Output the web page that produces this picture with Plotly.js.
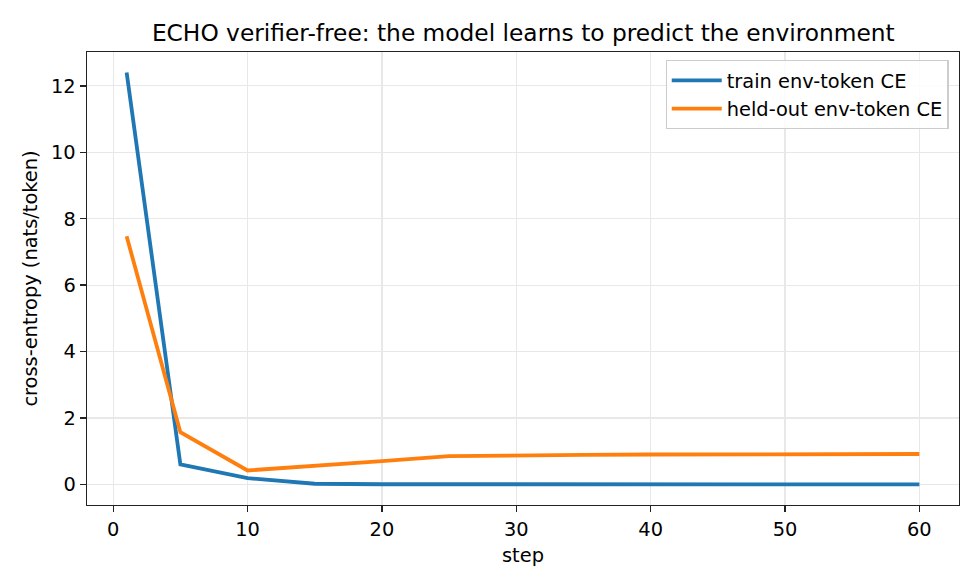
<!DOCTYPE html>
<html>
<head>
<meta charset="utf-8">
<script src="https://cdn.plot.ly/plotly-3.0.1.min.js"></script>
<style>html,body{margin:0;padding:0;background:#fff;}#chart{width:980px;height:588px;}</style>
</head>
<body>
<div id="chart"></div>
<script>
const steps = [1, 5, 10, 15, 20, 25, 30, 35, 40, 45, 50, 55, 60];
const trainCE = [12.4, 0.6, 0.19, 0.02, 0.005, 0.003, 0.002, 0.002, 0.002, 0.002, 0.002, 0.002, 0.002];
const heldoutCE = [7.47, 1.57, 0.42, 0.55, 0.70, 0.85, 0.88, 0.89, 0.90, 0.905, 0.91, 0.91, 0.915];
const xTicks = [0, 10, 20, 30, 40, 50, 60];
const yTicks = [0, 2, 4, 6, 8, 10, 12];

const font = 'DejaVu Sans, sans-serif';
const traces = [
  {x: steps, y: trainCE, name: 'train env-token CE', mode: 'lines',
   line: {color: '#1f77b4', width: 3.8}},
  {x: steps, y: heldoutCE, name: 'held-out env-token CE', mode: 'lines',
   line: {color: '#ff7f0e', width: 3.8}}
];
const axisCommon = {
  showline: true, mirror: true, linecolor: '#222', linewidth: 1.4,
  ticks: 'outside', ticklen: 6, tickwidth: 1.4, tickcolor: '#222',
  showgrid: true, gridcolor: '#e8e8e8', gridwidth: 1.2, zeroline: false,
  tickfont: {family: font, size: 19.4, color: '#000'}
};
const layout = {
  width: 980, height: 588,
  margin: {l: 87, r: 21, t: 52, b: 83},
  paper_bgcolor: '#fff', plot_bgcolor: '#fff',
  font: {family: font, color: '#000'},
  title: {text: 'ECHO verifier-free: the model learns to predict the environment',
          font: {family: font, size: 23.3, color: '#000'},
          x: 0.534, xanchor: 'center', y: 0.944, yanchor: 'middle', yref: 'container'},
  xaxis: Object.assign({}, axisCommon, {
    range: [-1.95, 62.95], tickvals: xTicks, ticktext: xTicks.map(String),
    title: {text: 'step', font: {family: font, size: 19.4, color: '#000'}, standoff: 8}
  }),
  yaxis: Object.assign({}, axisCommon, {
    range: [-0.62, 13.02], tickvals: yTicks, ticktext: yTicks.map(String),
    title: {text: 'cross-entropy (nats/token)', font: {family: font, size: 19.4, color: '#000'}, standoff: 8}
  }),
  showlegend: true,
  legend: {x: 0.988, xanchor: 'right', y: 0.982, yanchor: 'top',
           itemwidth: 50,
           bgcolor: 'rgba(255,255,255,0.85)', bordercolor: '#cccccc', borderwidth: 1.2,
           font: {family: font, size: 19.4, color: '#000'}, tracegroupgap: 0}
};
Plotly.newPlot('chart', traces, layout, {displayModeBar: false, staticPlot: true});
</script>
</body>
</html>
